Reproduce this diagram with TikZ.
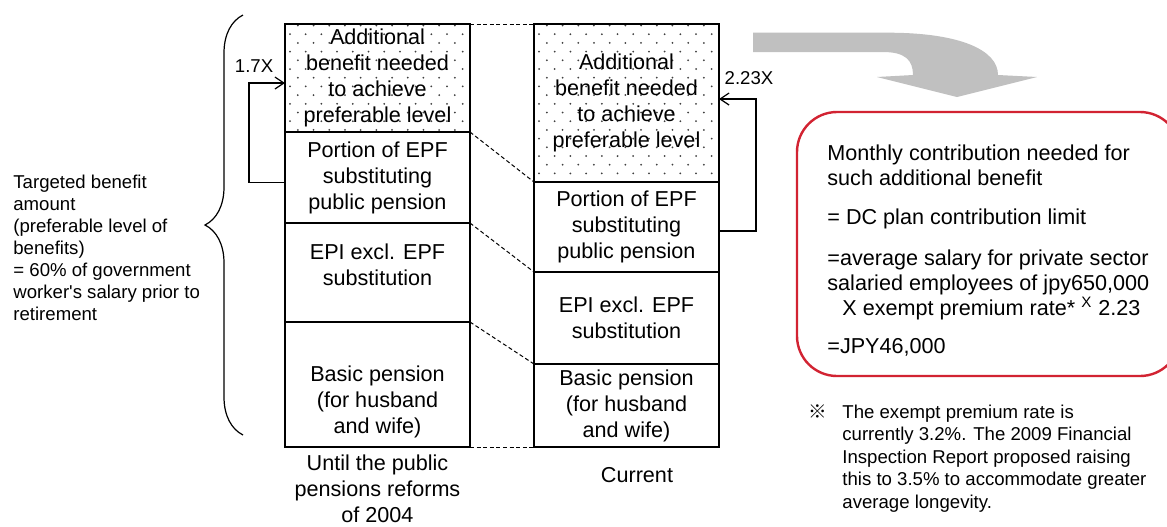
\documentclass[tikz,border=0pt]{standalone}
\usepackage{fontspec}
\setmainfont{Liberation Sans}
\newfontfamily\cjkfont{Noto Sans CJK JP}
\usetikzlibrary{positioning, arrows.meta, decorations.pathreplacing}
\definecolor{rahmenrot}{RGB}{210,35,50}
\definecolor{pfeilgrau}{RGB}{192,192,192}

\begin{document}
\begin{tikzpicture}[x=0.5pt, y=-0.5pt,
				>={Straight Barb[length=4.5pt,width=6pt]},   %Pfeilspitzen
				saeule/.style={draw, line width=0.6pt, minimum width=92.5pt, inner sep=0pt, outer sep=0pt, align=center, font=\fontsize{10.8}{13}\selectfont},
				punktiert/.style={saeule, path picture={
					\foreach \r in {0,...,18} \foreach \c in {0,...,12}
						\fill[black!75] ([shift={({5+mod(\r+1,2)*7.85+\c*15.7},{1.5+\r*8.7})}]path picture bounding box.north west) circle (0.5pt);}},
				beschriftung/.style={align=center, inner sep=0pt, font=\fontsize{10.8}{13}\selectfont},
				randtext/.style={align=left, inner sep=0pt, font=\fontsize{9.3}{11}\selectfont},
				fusstext/.style={align=left, inner sep=0pt, font=\fontsize{9.3}{11.25}\selectfont},
				ergebnistext/.style={align=left, inner sep=0pt, font=\fontsize{10.8}{12.5}\selectfont},
				faktor/.style={inner sep=0pt, font=\fontsize{9.3}{11}\selectfont},
				verbindung/.style={dash pattern=on 2pt off 1.3pt, line width=0.5pt}]
				%Bildbereich
				\useasboundingbox[fill=white] (0,0) rectangle (1167,526);
				%Saeule bis 2004
				\node[punktiert, minimum height=54pt] (altzus) at (377.5,78) {Additional\\benefit needed\\to achieve\\preferable level};
				\node[saeule, minimum height=45.5pt, below=0pt of altzus] (altepf) {Portion of EPF\\substituting\\public pension};
				\node[saeule, minimum height=49.5pt, below=0pt of altepf] (altepi) {};
				\node[saeule, minimum height=62.5pt, below=0pt of altepi] (altbasis) {};
				\node[beschriftung] (altepitext) at (377.5,264.5) {EPI excl. EPF\\substitution};
				\node[beschriftung] (altbasistext) at (377.5,401.5) {Basic pension\\(for husband\\and wife)};
				\node[beschriftung, below=3.5pt of altbasis] (altzeit) {Until the public\\pensions reforms\\of 2004};
				%Saeule heute
				\node[punktiert, minimum height=79pt] (neuzus) at (626.5,103) {Additional\\benefit needed\\to achieve\\preferable level};
				\node[saeule, minimum height=45pt, below=0pt of neuzus] (neuepf) {Portion of EPF\\substituting\\public pension};
				\node[saeule, minimum height=46pt, below=0pt of neuepf] (neuepi) {EPI excl. EPF\\substitution};
				\node[saeule, minimum height=41.5pt, below=0pt of neuepi] (neubasis) {Basic pension\\(for husband\\and wife)};
				\node[beschriftung] (neuzeit) at (637,475) {Current};
				%Gestrichelte Verbindungen
				\draw[verbindung] (altzus.north east) -- (neuzus.north west);
				\foreach \a/\b in {altzus/neuzus, altepf/neuepf, altepi/neuepi, altbasis/neubasis}
					\draw[verbindung] (\a.south east) -- (\b.south west);
				%Faktoren
				\draw[->, line width=0.6pt] ([yshift=-2.5pt]altepf.west) -- ++(-18pt,0) |- ([yshift=-2.5pt]altzus.west) node[faktor, pos=0.57, above=5pt] (faktoralt) {1.7X};
				\draw[->, line width=0.6pt] ([yshift=-2pt]neuepf.east) -- ++(18.5pt,0) |- ([yshift=2pt]neuzus.east) node[faktor, pos=0.595, above=7pt] (faktorneu) {2.23X};
				%Klammer und Zielniveau
				\draw[decorate, decoration={brace, amplitude=19pt}, line width=0.6pt] (243,435) -- (243,15);
				\node[randtext, anchor=north west] (ziel) at (13,174.5) {Targeted benefit\\amount\\(preferable level of\\benefits)\\= 60\% of government\\worker\textquotesingle s salary prior to\\retirement};
				%Grauer Pfeil
				\fill[pfeilgrau] (753,32.7) -- (890,32.7) .. controls (960,33) and (998,50) .. (998,75) -- (1037,77) -- (957,97) -- (877,77) -- (913,75) .. controls (913,60) and (905,52) .. (883,52) -- (753,52) -- cycle;
				%Ergebnis
				\node[draw=rahmenrot, line width=1.2pt, rounded corners=20pt, minimum width=191.5pt, minimum height=132pt, inner sep=0pt, outer sep=0pt] (ergebnis) at (988.5,244) {};
				\node[ergebnistext, anchor=north west] (beitrag) at (827,144) {Monthly contribution needed for\\such additional benefit\\[7pt]= DC plan contribution limit\\[8pt]=average salary for private sector\\salaried employees of jpy650,000\\\hspace*{7.5pt}X exempt premium rate* \textsuperscript{X} 2.23\\[6.5pt]=JPY46,000};
				%Fussnote
				\node[fusstext] (zeichen) at (817.5,412) {\cjkfont ※};
				\node[fusstext, anchor=north west] (hinweis) at (842,404.4) {The exempt premium rate is\\currently 3.2\%. The 2009 Financial\\Inspection Report proposed raising\\this to 3.5\% to accommodate greater\\average longevity.};
			\end{tikzpicture}
\end{document}
